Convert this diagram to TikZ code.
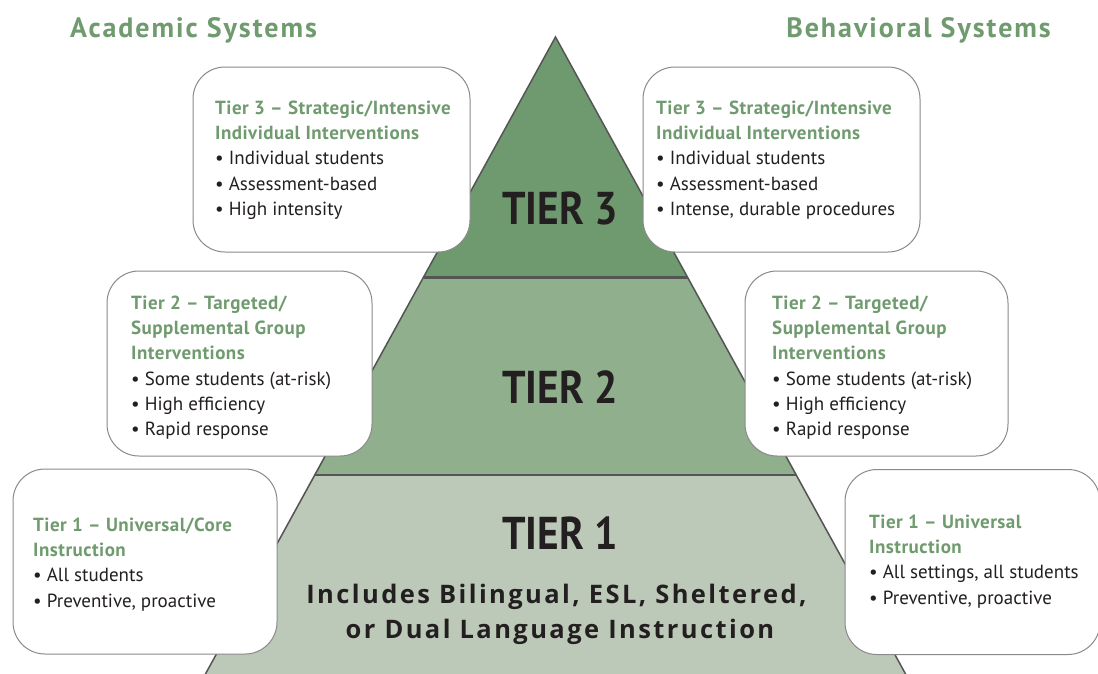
\documentclass[tikz,border=0pt]{standalone}
\usepackage{fontspec}
\setmainfont{PT Sans}
\newfontfamily\incfont{Open Sans}
\definecolor{hgreen}{HTML}{6F9B6F}
\definecolor{t3fill}{HTML}{6F9A6F}
\definecolor{t2fill}{HTML}{8FAF8D}
\definecolor{t1fill}{HTML}{BCC9B8}
\definecolor{edge}{HTML}{555555}
\definecolor{boxedge}{HTML}{8A8A8A}
\definecolor{ink}{HTML}{231F20}
\newcommand{\hd}[1]{\textcolor{hgreen}{\bfseries\addfontfeature{LetterSpace=2.5}#1}}
\tikzset{
  infobox/.style={draw=boxedge, line width=1pt, fill=white, rounded corners=32pt, minimum height=185pt, inner sep=0pt},
  boxtext/.style={anchor=north west, inner sep=0pt, align=left, text=ink, font=\fontsize{19}{25.3}\selectfont},
  tiertext/.style={text=ink, font=\fontsize{46}{50}\selectfont\bfseries, inner sep=0pt},
  inctext/.style={text=ink, font=\incfont\fontsize{25.5}{35}\selectfont\bfseries\addfontfeature{LetterSpace=9.5}, inner sep=0pt, anchor=base},
  heading/.style={text=hgreen, font=\fontsize{28}{30}\selectfont\bfseries\addfontfeature{LetterSpace=7}, inner sep=0pt, anchor=base},
  sepline/.style={draw=edge, line width=2.5pt},
}
\begin{document}
\begin{tikzpicture}[x=1pt,y=-1pt]
\useasboundingbox (0,0) rectangle (1098,673);
\clip (0,0) rectangle (1098,673);
\fill[white] (0,0) rectangle (1098,673);
% pyramid
\coordinate (apex) at (555.5,37);
\coordinate (l3) at (423,277.5);
\coordinate (r3) at (688,277.5);
\coordinate (l2) at (314,475);
\coordinate (r2) at (797,475);
\coordinate (bl) at (200.5,683);
\coordinate (br) at (910.5,683);
\fill[t3fill] (apex) -- (r3) -- (l3) -- cycle;
\fill[t2fill] (l3) -- (r3) -- (r2) -- (l2) -- cycle;
\fill[t1fill] (l2) -- (r2) -- (br) -- (bl) -- cycle;
\draw[sepline] (l3) -- (r3);
\draw[sepline] (l2) -- (r2);
\draw[edge, line width=1.5pt, line join=miter] (bl) -- (apex) -- (br);
% tier labels
\node[tiertext] (t3) at (560,208) {\scalebox{0.9}[1]{TIER 3}};
\node[tiertext] (t2) at (560,387) {\scalebox{0.9}[1]{TIER 2}};
\node[tiertext] (t1) at (560,533) {\scalebox{0.9}[1]{TIER 1}};
\node[inctext] (inc1) at (556.5,603) {Includes Bilingual, ESL, Sheltered,};
\node[inctext] (inc2) at (560,638) {or Dual Language Instruction};
% headings
\node[heading] (acad) at (193.5,37) {Academic Systems};
\node[heading] (behav) at (918.5,37) {Behavioral Systems};
% boxes
\node[infobox, minimum width=277pt] (a3) at (331.5,159.5) {};
\node[infobox, minimum width=277pt] (b3) at (781.5,159.5) {};
\node[infobox, minimum width=265pt] (a2) at (239.5,363.5) {};
\node[infobox, minimum width=263pt] (b2) at (876.5,363.5) {};
\node[infobox, minimum width=264pt] (a1) at (145,561.5) {};
\node[infobox, minimum width=255pt] (b1) at (972.5,562) {};
% box texts
\node[boxtext] (a3t) at (215,100.5) {\hd{Tier 3 – Strategic/Intensive}\\\hd{Individual Interventions}\\• Individual students\\• Assessment-based\\• High intensity};
\node[boxtext] (b3t) at (656,100.5) {\hd{Tier 3 – Strategic/Intensive}\\\hd{Individual Interventions}\\• Individual students\\• Assessment-based\\• Intense, durable procedures};
\node[boxtext] (a2t) at (131,295.5) {\hd{Tier 2 – Targeted/}\\\hd{Supplemental Group}\\\hd{Interventions}\\• Some students (at-risk)\\• High efficiency\\• Rapid response};
\node[boxtext] (b2t) at (772,295.5) {\hd{Tier 2 – Targeted/}\\\hd{Supplemental Group}\\\hd{Interventions}\\• Some students (at-risk)\\• High efficiency\\• Rapid response};
\node[boxtext] (a1t) at (33,517.5) {\hd{Tier 1 – Universal/Core}\\\hd{Instruction}\\• All students\\• Preventive, proactive};
\node[boxtext] (b1t) at (869,514.5) {\hd{Tier 1 – Universal}\\\hd{Instruction}\\• All settings, all students\\• Preventive, proactive};
\end{tikzpicture}
\end{document}
